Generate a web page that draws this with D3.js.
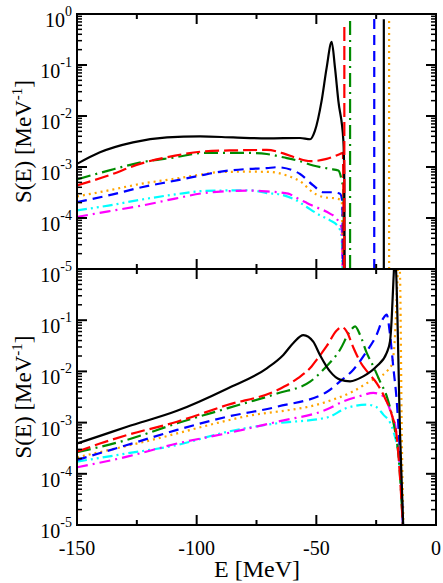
<!DOCTYPE html>
<html><head><meta charset="utf-8">
<script src="https://cdn.jsdelivr.net/npm/d3@7"></script>
<style>body{margin:0;background:#fff}svg{display:block}</style>
</head><body>
<svg id="c" width="443" height="583"></svg>
<script>
// ---------- data ----------
const xMajorTicks = [-150, -100, -50, 0];
const xTickLabels = ["-150", "-100", "-50", "0"];
const xMinorTicks = [-125, -75, -25];
const yDecadeExponents = [0, -1, -2, -3, -4, -5];

// top panel curves [E (MeV), S (MeV^-1)]
const topBlack = [[-150,1.15e-3],[-140.4,1.94e-3],[-126.6,3.04e-3],[-112.4,3.8e-3],[-98.6,3.98e-3],[-84.8,3.8e-3],[-70.6,3.64e-3],[-56.8,3.7e-3],[-52.6,3.5e-3],[-50.6,5.1e-3],[-47.8,1.98e-2],[-45.7,8.8e-2],[-43.6,0.284],[-42.2,8.8e-2],[-40.8,1.98e-2],[-38.7,3.3e-3],[-38.3,5e-4],[-38.15,5e-6]];
const topRed = [[-150,4.35e-4],[-136.9,6.8e-4],[-123,1.18e-3],[-109,1.67e-3],[-96.5,2.03e-3],[-84,2.12e-3],[-70.7,2.16e-3],[-63.8,1.85e-3],[-58.2,1.5e-3],[-52.6,1.3e-3],[-45.7,1.44e-3],[-40.1,1.8e-3],[-38.9,1.9e-3],[-38.5,5e-6]];
const topGreen = [[-150,5.7e-4],[-136.9,8.5e-4],[-123,1.24e-3],[-109,1.55e-3],[-96.5,1.89e-3],[-77.7,1.89e-3],[-70.7,1.8e-3],[-63.9,1.55e-3],[-56.8,1.3e-3],[-51.3,1.07e-3],[-44.3,9.2e-4],[-40.8,8.5e-4],[-39.4,5.4e-4],[-38.7,3.5e-4],[-38.4,5e-6]];
const topBlue = [[-150,2.05e-4],[-136.9,2.77e-4],[-123,4.0e-4],[-109,5.4e-4],[-96.5,7.1e-4],[-91.6,7.9e-4],[-77.7,9.2e-4],[-70.7,9.5e-4],[-66.5,9.9e-4],[-59.6,8.5e-4],[-56.8,7.3e-4],[-51.3,4.35e-4],[-47.1,3.2e-4],[-43.6,3.2e-4],[-40.1,3.0e-4],[-39.2,2.2e-4],[-38.8,5e-6]];
const topOrange = [[-150,2.65e-4],[-136.9,3.47e-4],[-123,4.7e-4],[-109,5.9e-4],[-96.5,7.3e-4],[-91.6,7.9e-4],[-77.7,8.1e-4],[-69.4,8.0e-4],[-62.4,6.8e-4],[-55.4,4.7e-4],[-52.6,3.5e-4],[-47.1,2.57e-4],[-41.5,2.4e-4],[-39.4,2.2e-4],[-38.9,5e-6]];
const topMagenta = [[-150,1.05e-4],[-136.9,1.35e-4],[-123,1.75e-4],[-109,2.4e-4],[-96.5,3.1e-4],[-91.6,3.25e-4],[-77.7,3.45e-4],[-70.7,3.32e-4],[-61.7,3.0e-4],[-58.9,2.57e-4],[-54.7,2.05e-4],[-51.9,1.77e-4],[-48.5,1.52e-4],[-44.3,1.22e-4],[-41.5,9.7e-5],[-39.4,6.2e-5],[-39.0,5e-6]];
const topCyan = [[-150,1.41e-4],[-136.9,1.75e-4],[-123,2.3e-4],[-109,2.9e-4],[-96.5,3.4e-4],[-77.7,3.5e-4],[-70.7,3.08e-4],[-65.2,2.9e-4],[-58.2,2.2e-4],[-54.0,1.64e-4],[-48.5,1.13e-4],[-44.3,9.0e-5],[-40.8,6.7e-5],[-39.4,4.3e-5],[-39.0,5e-6]];
// top panel delta-like spikes: [E, peak S]
const topSpikeE = {red:-38.3, green:-35.9, blue:-25.8, black:-21.8, orange:-19.6};
const topSpikeS = {red:0.62, green:0.73, blue:0.8, black:0.79, orange:0.79};

// bottom panel curves
const botBlack = [[-150,3.9e-4],[-140.4,5.5e-4],[-129.1,8.3e-4],[-108.2,1.7e-3],[-87.3,4.6e-3],[-70.7,1.15e-2],[-63.8,2.1e-2],[-59.6,3.6e-2],[-55.4,5.1e-2],[-51.3,3.8e-2],[-48.5,2.1e-2],[-44.3,1.0e-2],[-40.1,6.9e-3],[-35.9,6.4e-3],[-30.4,8.0e-3],[-24.8,1.26e-2],[-20.6,2.3e-2],[-19.2,3.9e-2],[-18.5,0.11],[-17.8,0.575],[-17.1,2.0],[-16.7,1.0],[-15.0,5.7e-4],[-13.5,5e-6]];
const botRed = [[-150,2.7e-4],[-140.4,3.9e-4],[-129.1,5.7e-4],[-108.2,1.04e-3],[-87.3,2.2e-3],[-66.4,4.3e-3],[-57.5,7.5e-3],[-52,1.25e-2],[-49.8,1.7e-2],[-45.7,3.1e-2],[-41.5,6.3e-2],[-39.4,7.4e-2],[-37.3,6.0e-2],[-34.5,2.9e-2],[-31.8,1.58e-2],[-28.3,9.3e-3],[-24.8,5.9e-3],[-21.3,3.0e-3],[-18.5,1.43e-3],[-16.4,5.3e-4],[-13.5,5e-6]];
const botGreen = [[-150,2.65e-4],[-129.1,4.6e-4],[-108.2,9.7e-4],[-87.3,1.9e-3],[-66.4,3.7e-3],[-52.6,6.3e-3],[-46.4,1.17e-2],[-40.1,2.65e-2],[-35.9,6.1e-2],[-33.8,7.6e-2],[-31.75,5.2e-2],[-28.95,2.3e-2],[-26.2,1.26e-2],[-23.4,6.4e-3],[-20.6,3.3e-3],[-18.5,1.43e-3],[-17.1,6.8e-4],[-15.75,2.5e-4],[-13.5,5e-6]];
const botBlue = [[-150,1.86e-4],[-129.1,3.65e-4],[-108.2,7.2e-4],[-87.3,1.3e-3],[-66.4,2.04e-3],[-45.5,4.0e-3],[-40.1,6.4e-3],[-34.55,1.08e-2],[-28.95,2.47e-2],[-24.8,5.2e-2],[-22.0,0.11],[-20.6,0.128],[-19.2,5.2e-2],[-17.8,1.16e-2],[-16.4,2.6e-3],[-15.75,9.1e-4],[-13.5,5e-6]];
const botOrange = [[-150,2.1e-4],[-122.1,4.2e-4],[-80.3,1.3e-3],[-45.5,2.57e-3],[-34.55,4.1e-3],[-27.6,6.4e-3],[-20.6,1.0e-2],[-18.5,1.35e-2],[-17.1,5.2e-2],[-16.2,0.49],[-15.5,2.0],[-15.0,0.66],[-14.3,5.8e-4],[-13.4,5e-6]];
const botMagenta = [[-150,1.34e-4],[-129.1,2.16e-4],[-108.2,3.9e-4],[-87.3,6.2e-4],[-66.4,1.04e-3],[-45.5,1.82e-3],[-38.7,2.6e-3],[-31.75,3.3e-3],[-26.2,3.8e-3],[-23.4,3.6e-3],[-20.6,2.6e-3],[-18.5,1.4e-3],[-17.1,9.1e-4],[-15.0,1.2e-4],[-13.5,5e-6]];
const botCyan = [[-150,1.73e-4],[-129.1,2.5e-4],[-108.2,3.65e-4],[-87.3,6.6e-4],[-66.4,9.7e-4],[-45.7,1.25e-3],[-37.3,1.93e-3],[-28.95,2.24e-3],[-24.8,2.0e-3],[-22.0,1.43e-3],[-19.2,1.0e-3],[-17.8,6.8e-4],[-15.0,1.2e-4],[-13.5,5e-6]];

// ---------- styles ----------
const styles = {
  black:   {color:"#000000", dash:null},
  red:     {color:"#ff0000", dash:"14,5"},
  green:   {color:"#008b00", dash:"14,5,2,5"},
  blue:    {color:"#0000ff", dash:"10,6"},
  orange:  {color:"#ffa500", dash:"2,4"},
  magenta: {color:"#ff00ff", dash:"11,5,2,5"},
  cyan:    {color:"#00ffff", dash:"10,4,2,4,2,4"}
};

const svg = d3.select("#c");
const FONT = "'Liberation Serif','Times New Roman',serif";
const X0 = 77, X1 = 436;
const x = d3.scaleLinear().domain([-150, 0]).range([X0, X1]);

const panels = [
  {id:"top", y0:14, y1:269, series:{black:topBlack, red:topRed, green:topGreen, blue:topBlue, orange:topOrange, magenta:topMagenta, cyan:topCyan}, spikes:true},
  {id:"bot", y0:269, y1:525, series:{black:botBlack, red:botRed, green:botGreen, blue:botBlue, orange:botOrange, magenta:botMagenta, cyan:botCyan}, spikes:false}
];
const order = ["cyan","magenta","orange","blue","green","red","black"];

panels.forEach((p, pi) => {
  const y = d3.scaleLog().domain([1e-5, 1]).range([p.y1, p.y0]);
  const clipId = "clip-" + p.id;
  svg.append("clipPath").attr("id", clipId).append("rect")
    .attr("x", X0).attr("y", p.y0).attr("width", X1 - X0).attr("height", p.y1 - p.y0);
  const g = svg.append("g").attr("clip-path", `url(#${clipId})`);
  const line = d3.line().x(d => x(d[0])).y(d => y(d[1])).curve(d3.curveMonotoneX);
  order.forEach(k => {
    g.append("path").datum(p.series[k]).attr("d", line)
      .attr("fill", "none").attr("stroke", styles[k].color).attr("stroke-width", 2.2)
      .attr("stroke-dasharray", styles[k].dash).attr("stroke-linejoin", "round");
  });
  if (p.spikes) {
    ["red","green","blue","black","orange"].forEach(k => {
      g.append("line")
        .attr("x1", x(topSpikeE[k])).attr("x2", x(topSpikeE[k]))
        .attr("y1", y(1e-5)).attr("y2", y(topSpikeS[k]))
        .attr("stroke", styles[k].color).attr("stroke-width", 2.2)
        .attr("stroke-dasharray", styles[k].dash);
    });
  }

  // axes (ticks inward on all four sides)
  const ax = svg.append("g").attr("stroke", "#000").attr("stroke-width", 2);
  const tickLines = (vals, len) => vals.forEach(v => {
    ax.append("line").attr("x1", x(v)).attr("x2", x(v)).attr("y1", p.y1).attr("y2", p.y1 - len);
    ax.append("line").attr("x1", x(v)).attr("x2", x(v)).attr("y1", p.y0).attr("y2", p.y0 + len);
  });
  tickLines(xMajorTicks, 10);
  tickLines(xMinorTicks, 5);
  yDecadeExponents.forEach(e => {
    const yy = y(Math.pow(10, e));
    ax.append("line").attr("x1", X0).attr("x2", X0 + 10).attr("y1", yy).attr("y2", yy);
    ax.append("line").attr("x1", X1).attr("x2", X1 - 10).attr("y1", yy).attr("y2", yy);
    if (e > -5) for (let m = 2; m <= 9; m++) {
      const ym = y(m * Math.pow(10, e - 1));
      ax.append("line").attr("x1", X0).attr("x2", X0 + 5).attr("y1", ym).attr("y2", ym).attr("stroke-width", 1.5);
      ax.append("line").attr("x1", X1).attr("x2", X1 - 5).attr("y1", ym).attr("y2", ym).attr("stroke-width", 1.5);
    }
  });
  svg.append("rect").attr("x", X0).attr("y", p.y0).attr("width", X1 - X0).attr("height", p.y1 - p.y0)
    .attr("fill", "none").attr("stroke", "#000").attr("stroke-width", 2);

  // y tick labels
  const labelExps = pi === 0 ? yDecadeExponents : yDecadeExponents.slice(1);
  labelExps.forEach(e => {
    const yy = y(Math.pow(10, e));
    const t = svg.append("text").attr("x", 72).attr("y", yy + 13).attr("text-anchor", "end")
      .attr("font-family", FONT).attr("font-size", 20).text("10");
    t.append("tspan").attr("dy", -11).attr("font-size", 14).text(String(e));
  });

  // y axis label
  const yc = (p.y0 + p.y1) / 2;
  const yl = svg.append("text").attr("transform", `translate(31,${yc}) rotate(-90)`)
    .attr("text-anchor", "middle").attr("font-family", FONT).attr("font-size", 23);
  yl.append("tspan").text("S(E) [MeV");
  yl.append("tspan").attr("dy", -9).attr("font-size", 15).text("-1");
  yl.append("tspan").attr("dy", 9).text("]");
});

// x tick labels & label
xMajorTicks.forEach((v, i) => {
  svg.append("text").attr("x", x(v)).attr("y", 555).attr("text-anchor", "middle")
    .attr("font-family", FONT).attr("font-size", 20).text(xTickLabels[i]);
});
svg.append("text").attr("x", 257).attr("y", 577).attr("text-anchor", "middle")
  .attr("font-family", FONT).attr("font-size", 24).text("E [MeV]");
</script>
</body></html>
